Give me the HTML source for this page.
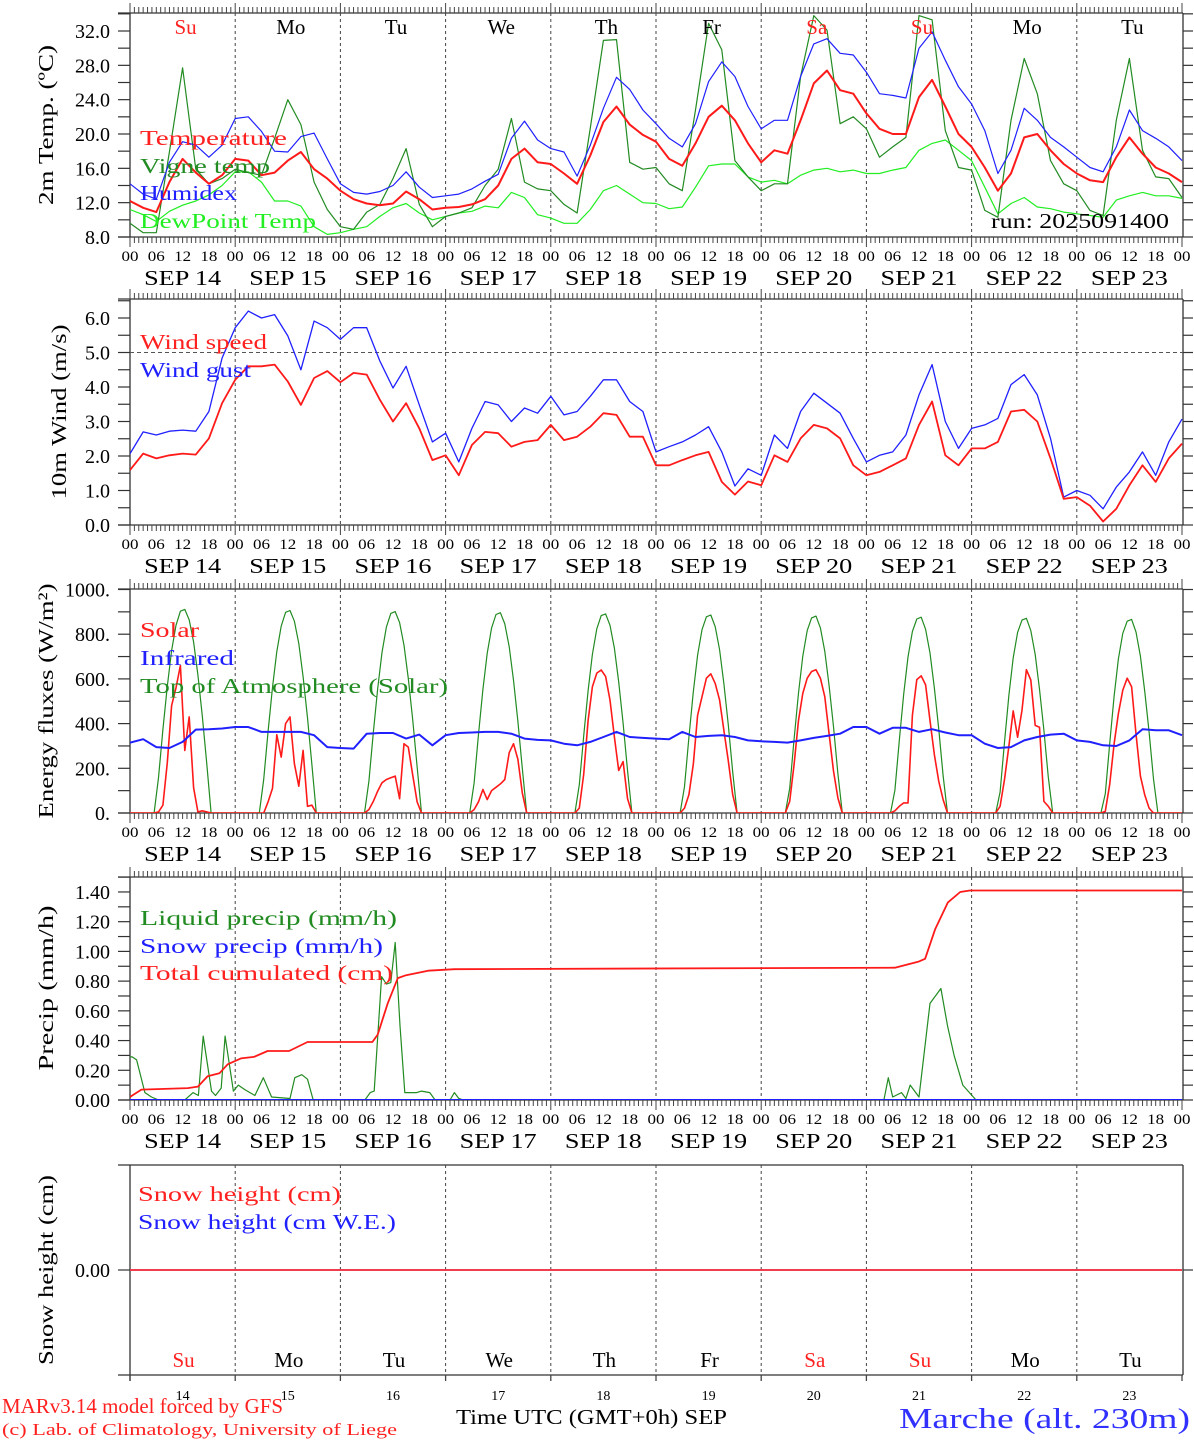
<!DOCTYPE html>
<html><head><meta charset="utf-8"><title>MAR forecast Marche</title>
<style>html,body{margin:0;padding:0;background:#fff;}svg{display:block;}text{font-family:"Liberation Serif","DejaVu Serif",serif;}</style>
</head><body>
<svg id="chart" xmlns="http://www.w3.org/2000/svg" width="1194" height="1440" viewBox="0 0 1194 1440"></svg>
<script>
// ---------- DATA ----------
// 3-hourly series (t = 0,3,...,240 hours from SEP 14 00 UTC)
const tempValues=[12.2,11.4,10.9,14.4,17.1,15.5,14.2,15.2,17.1,16.9,15.2,15.5,16.9,17.9,15.9,14.8,13.4,12.4,11.9,11.7,11.9,13.3,12.4,11.2,11.4,11.5,11.8,12.4,14.0,17.1,18.3,16.7,16.5,15.4,14.2,17.5,21.4,23.2,21.1,19.9,19.1,17.1,16.3,18.9,22.0,23.3,21.6,18.9,16.7,18.1,17.7,21.6,25.9,27.4,25.1,24.7,22.4,20.6,20.0,20.0,24.3,26.3,23.2,20.0,18.5,16.1,13.4,15.4,19.6,20.0,18.1,16.5,15.4,14.6,14.4,17.3,19.6,17.7,16.1,15.4,14.4];
const humidexValues=[14.2,13.0,12.4,16.7,19.1,18.7,17.3,18.7,21.8,22.0,20.3,18.0,17.9,19.7,20.1,17.1,14.2,13.2,13.0,13.3,14.0,15.6,13.8,12.6,12.8,13.0,13.6,14.5,15.3,19.5,21.5,19.3,18.3,17.9,15.1,18.7,23.0,26.6,25.2,22.8,21.2,19.5,18.5,21.2,26.1,28.4,26.7,23.2,20.6,21.6,21.6,26.7,30.5,31.1,29.4,29.2,27.2,24.7,24.5,24.2,30.0,31.9,28.6,25.5,23.5,20.4,15.4,18.1,23.0,21.6,19.6,18.5,17.3,16.1,15.6,18.5,22.8,20.4,19.5,18.5,16.9];
const vigneValues=[9.6,8.5,8.5,17.9,27.7,15.9,14.2,14.8,15.9,15.5,15.2,19.5,24.0,21.1,14.4,11.2,9.2,8.9,10.9,11.8,14.8,18.3,11.8,9.2,10.4,10.8,11.4,14.0,15.9,21.8,14.4,13.6,13.4,11.8,10.8,20.7,30.9,31.0,16.7,15.9,16.1,14.2,13.4,22.8,32.9,29.8,16.9,15.0,13.4,14.2,14.2,26.7,33.8,32.1,21.2,22.0,20.6,17.3,18.5,19.6,33.8,33.3,20.4,16.1,15.8,11.1,10.3,21.6,28.8,24.7,16.9,14.2,13.4,11.1,10.5,21.6,28.8,18.1,15.0,14.8,12.6];
const dewValues=[11.2,10.6,9.8,11.0,11.7,12.2,12.9,14.0,15.6,15.6,14.4,12.2,12.2,11.6,9.2,8.3,8.5,8.9,9.2,10.4,11.4,11.9,10.8,10.0,10.4,10.8,11.0,11.6,11.4,13.2,12.6,10.6,10.2,9.6,9.6,11.2,13.4,14.0,13.0,12.0,11.9,11.3,11.5,13.8,16.3,16.5,16.5,15.0,14.4,14.6,14.2,15.2,15.8,16.0,15.6,15.8,15.4,15.4,15.8,16.1,18.1,18.9,19.3,18.1,16.9,13.8,10.7,11.9,12.6,11.5,11.3,10.9,10.7,10.5,10.3,12.3,12.8,13.2,12.8,12.8,12.5];
const windValues=[1.59,2.07,1.93,2.02,2.07,2.04,2.51,3.53,4.21,4.6,4.6,4.65,4.16,3.48,4.26,4.46,4.14,4.41,4.36,3.63,3.0,3.53,2.80,1.88,2.02,1.44,2.32,2.70,2.66,2.27,2.41,2.46,2.90,2.46,2.56,2.85,3.24,3.19,2.56,2.56,1.73,1.73,1.88,2.02,2.12,1.25,0.88,1.26,1.15,2.02,1.83,2.51,2.90,2.80,2.51,1.73,1.44,1.54,1.73,1.93,2.90,3.58,2.02,1.73,2.22,2.22,2.41,3.29,3.34,3.0,1.93,0.76,0.81,0.56,0.1,0.47,1.15,1.73,1.25,1.93,2.36];
const gustValues=[2.07,2.70,2.61,2.72,2.75,2.72,3.29,4.84,5.72,6.2,6.0,6.1,5.48,4.50,5.91,5.72,5.38,5.72,5.72,4.75,3.97,4.6,3.48,2.41,2.66,1.83,2.80,3.58,3.48,3.0,3.39,3.24,3.73,3.19,3.29,3.73,4.21,4.21,3.58,3.29,2.12,2.27,2.41,2.61,2.85,2.12,1.13,1.63,1.44,2.61,2.22,3.29,3.82,3.53,3.24,2.51,1.83,2.02,2.12,2.61,3.77,4.65,3.0,2.22,2.80,2.90,3.09,4.07,4.36,3.77,2.51,0.81,1.0,0.86,0.47,1.10,1.54,2.12,1.44,2.41,3.07];
const infraredValues=[315,330,295,291,318,373,375,378,385,385,363,363,363,363,348,295,291,288,355,358,358,333,351,303,348,358,360,363,363,355,333,327,325,310,303,318,340,363,340,336,333,330,363,340,345,348,340,325,321,318,315,325,336,345,355,385,385,355,381,381,363,375,360,348,348,310,291,295,325,340,351,355,325,318,303,300,325,375,370,370,348];
// hourly energy, per day, hours 06..18 (hour-mean values)
const solarByDay=[
 [5,35,225,480,560,660,280,430,113,5,10,5,0],
 [0,50,110,350,250,400,430,220,120,280,30,35,0],
 [15,52,98,135,150,158,165,64,310,295,170,50,0],
 [15,50,105,60,100,115,130,150,270,310,240,90,0],
 [22,173,414,565,626,640,611,505,340,190,230,65,0],
 [22,82,218,437,520,603,623,580,505,369,233,82,0],
 [52,218,414,535,603,633,641,603,520,354,188,67,0],
 [10,30,45,45,437,597,614,573,414,263,143,60,0],
 [30,150,300,457,339,460,641,595,392,384,52,30,0],
 [7,128,309,445,550,603,565,354,165,82,22,0,0]];
const toaByDay=[
 [158,373,567,726,840,903,911,864,765,618,434,224,0],
 [150,366,562,722,836,898,906,858,758,610,426,216,0],
 [142,359,557,718,832,893,901,852,751,602,418,208,0],
 [134,352,552,714,828,888,896,846,744,594,410,200,0],
 [126,345,547,710,824,883,891,840,737,586,402,192,0],
 [118,338,542,706,820,878,886,834,730,578,394,184,0],
 [110,331,537,702,816,873,881,828,723,570,386,176,0],
 [102,324,532,698,812,868,876,822,716,562,378,168,0],
 [94,317,527,694,808,863,871,816,709,554,370,160,0],
 [86,310,522,690,804,858,866,810,702,546,362,152,0]];
// precipitation (hour, value)
const liquidHours=[0,0.5,1.5,3.4,4.9,6.5,12.5,14.4,15.6,16.7,18.6,19.5,20.8,21.7,23.6,24.7,26.2,28.5,30.4,32.3,36.5,37.6,39.2,40.5,41.8,53.6,54.8,55.7,57.4,58.5,59.5,60.5,61.6,62.7,65.4,66.5,68.4,69.6,73,74,75,76,172,173,174,176,177,178,180,182.5,185,186.5,188,190,193,240];
const liquidValues=[0.29,0.29,0.27,0.05,0.02,0,0,0.05,0.03,0.43,0.06,0.03,0.08,0.43,0.06,0.1,0.07,0.03,0.15,0.02,0.01,0.15,0.17,0.14,0,0,0.05,0.06,0.83,0.78,0.79,1.06,0.5,0.05,0.05,0.06,0.05,0,0,0.05,0.01,0,0,0.15,0.02,0.05,0.01,0.1,0.02,0.65,0.75,0.5,0.3,0.1,0,0];
const cumulHours=[0,0.5,2.6,13.2,15.5,17.7,20.4,22.3,25.3,28.3,31.4,36.3,40.5,55.3,56.5,58.8,61.1,63,68,74,174.5,179.8,181.4,183.7,186.6,189.4,191.6,240];
const cumulValues=[0.02,0.03,0.07,0.08,0.09,0.16,0.18,0.24,0.28,0.29,0.33,0.33,0.39,0.39,0.44,0.65,0.82,0.84,0.87,0.88,0.89,0.93,0.95,1.15,1.33,1.40,1.41,1.41];
const snowPrecipHours=[0,240];
const snowPrecipValues=[0,0];
const snowHeightHours=[0,240];
const snowHeightValues=[0,0];
const dayNames=['Su','Mo','Tu','We','Th','Fr','Sa','Su','Mo','Tu'];
const dayNums=['14','15','16','17','18','19','20','21','22','23'];
const hourLabels=['00','06','12','18'];
const tempTicks=['8.0','12.0','16.0','20.0','24.0','28.0','32.0'];
const windTicks=['0.0','1.0','2.0','3.0','4.0','5.0','6.0'];
const energyTicks=['0.','200.','400.','600.','800.','1000.'];
const precipTicks=['0.00','0.20','0.40','0.60','0.80','1.00','1.20','1.40'];

// ---------- HELPERS ----------
const NS='http://www.w3.org/2000/svg';
const svg=document.getElementById('chart');
function mk(tag,attrs,parent){const e=document.createElementNS(NS,tag);for(const k in attrs)e.setAttribute(k,attrs[k]);(parent||svg).appendChild(e);return e;}
function X(h){return 130+h*1052/240;}
const L=130,R=1183;
const P=[
 {top:13,bot:237,Y:v=>237-(v-8)*206/24},
 {top:299,bot:525,Y:v=>525-v*34.5},
 {top:589,bot:813,Y:v=>813-v*0.2235},
 {top:877,bot:1100,Y:v=>1100-v*148.6},
 {top:1165,bot:1375,Y:v=>1270-v*100}];
function txt(x,y,s,size,fill,anchor,len,parent){
  const a={x:x,y:y,'font-size':size,fill:fill||'#000','text-anchor':anchor||'start'};
  if(len){a.textLength=len;a.lengthAdjust='spacingAndGlyphs';}
  const t=mk('text',a,parent);t.textContent=s;return t;}
function pts(times,vals,Y){return times.map((t,i)=>X(t).toFixed(1)+','+Y(vals[i]).toFixed(1)).join(' ');}
const t3=tempValues.map((_,i)=>i*3);

// clip paths
const defs=mk('defs',{});
P.forEach((p,i)=>{const c=mk('clipPath',{id:'clip'+i},defs);mk('rect',{x:L,y:p.top,width:R-L,height:p.bot-p.top},c);});

// ---------- FRAMES & GRID ----------
P.forEach((p,pi)=>{
  const g=mk('g',{});
  
  
  mk('line',{x1:118,y1:p.top,x2:R,y2:p.top,stroke:'#333','stroke-width':1.3},g);
  mk('line',{x1:118,y1:p.bot,x2:R,y2:p.bot,stroke:'#333','stroke-width':1.3},g);
  mk('line',{x1:L,y1:p.top,x2:L,y2:p.bot+(pi==4?6:0),stroke:'#333','stroke-width':1.3},g);
  mk('line',{x1:R,y1:p.top,x2:R,y2:p.bot,stroke:'#333','stroke-width':1.3},g);
  for(let d=1;d<10;d++){
    const vl=mk('line',{x1:X(d*24),y1:p.top,x2:X(d*24),y2:p.bot,stroke:'#444','stroke-width':1,'stroke-dasharray':'3,3'},g);
    
    
  }
  if(pi<4){
    for(let h=0;h<=240;h++){
      const len=h%24==0?10:6;
      mk('line',{x1:X(h),y1:p.top,x2:X(h),y2:p.top-len,stroke:'#444','stroke-width':1},g);
      mk('line',{x1:X(h),y1:p.bot,x2:X(h),y2:p.bot+len,stroke:'#444','stroke-width':1},g);
    }
    const lg=mk('g',{});
    
    
    for(let d=0;d<10;d++){
      for(let k=0;k<4;k++){txt(X(d*24+k*6),p.bot+24,hourLabels[k],15,'#000','middle',17,lg);}
      txt(X(d*24+12),p.bot+48,'SEP  '+dayNums[d],21,'#000','middle',77,lg);
    }
    txt(X(240),p.bot+24,'00',15,'#000','middle',17,lg);
  } else {
    for(let d=0;d<=10;d++){mk('line',{x1:X(d*24),y1:p.bot,x2:X(d*24),y2:p.bot+6,stroke:'#444','stroke-width':1.3},g);}
  }
});
// y ticks
function yTicks(pi,step,from,to,labels,labelStep,name){
  const p=P[pi];const g=mk('g',{});
  
  
  for(let v=from;v<=to+1e-9;v+=step){const y=p.Y(v);
    mk('line',{x1:118,y1:y,x2:L,y2:y,stroke:'#333','stroke-width':1.2},g);
    mk('line',{x1:R,y1:y,x2:R+10,y2:y,stroke:'#333','stroke-width':1.2},g);}
  labels.forEach((s,i)=>{txt(110,p.Y(from+i*labelStep)+7,s,20,'#000','end',null,g);});
}
yTicks(0,2,8,34,tempTicks,4,'temp-y-axis');
yTicks(1,0.5,0,6.5,windTicks,1,'wind-y-axis');
yTicks(2,100,0,1000,energyTicks,200,'energy-y-axis');
yTicks(3,0.1,0,1.5,precipTicks,0.2,'precip-y-axis');
yTicks(4,1,0,0,['0.00'],1,'snow-y-axis');
// wind 5.0 dashed
const w5=mk('line',{x1:L,y1:P[1].Y(5),x2:R,y2:P[1].Y(5),stroke:'#555','stroke-width':1,'stroke-dasharray':'4,3'});



// y titles
function ytitle(s,cx,cy,len,name){const t=txt(0,0,s,21,'#000','middle',len);t.setAttribute('transform','translate('+cx+','+cy+') rotate(-90)');
  
  }
ytitle('2m Temp. (ºC)',53,125,160,'temp-y-axis-title');
ytitle('10m Wind (m/s)',66,412,175,'wind-y-axis-title');
ytitle('Energy fluxes (W/m²)',53,701,235,'energy-y-axis-title');
ytitle('Precip (mm/h)',53,988,165,'precip-y-axis-title');
ytitle('Snow height (cm)',53,1270,190,'snow-y-axis-title');

// ---------- SERIES ----------
function series(pi,times,vals,color,w,name){
  const pl=mk('polyline',{points:pts(times,vals,P[pi].Y),fill:'none',stroke:color,'stroke-width':w,'stroke-linejoin':'round','clip-path':'url(#clip'+pi+')'});
  
  
  return pl;}
series(0,t3,dewValues,'#22ee22',1.2,'dewpoint-line');
series(0,t3,vigneValues,'#228b22',1.2,'vigne-temp-line');
series(0,t3,humidexValues,'#2020ff',1.2,'humidex-line');
series(0,t3,tempValues,'#ff1a1a',2,'temperature-line');
series(1,t3,gustValues,'#2020ff',1.3,'wind-gust-line');
series(1,t3,windValues,'#ff1a1a',1.8,'wind-speed-line');
function hourly(byDay){const times=[0],vals=[0];
  for(let d=0;d<10;d++){for(let h=0;h<24;h++){const idx=h-6;
    times.push(d*24+h+0.5);vals.push(idx>=0&&idx<byDay[d].length?byDay[d][idx]:0);}}
  times.push(240);vals.push(0);return [times,vals];}
const toa=hourly(toaByDay),sol=hourly(solarByDay);
series(2,toa[0],toa[1],'#228b22',1.2,'toa-solar-line');
series(2,sol[0],sol[1],'#ff1a1a',1.6,'solar-line');
series(2,t3,infraredValues,'#2020ff',2,'infrared-line');
series(3,liquidHours,liquidValues,'#228b22',1.2,'liquid-precip-line');
series(3,snowPrecipHours,snowPrecipValues,'#2020ff',2,'snow-precip-line');
series(3,cumulHours,cumulValues,'#ff1a1a',1.8,'total-cumulated-line');
series(4,snowHeightHours,snowHeightValues,'#2020ff',1.5,'snow-height-we-line');
series(4,snowHeightHours,snowHeightValues,'#ff3333',1.8,'snow-height-line');

// ---------- LEGENDS ----------
function legend(x,y,s,color,len,name){const t=txt(x,y,s,21,color,'start',len);
  
  }
legend(140,145,'Temperature','#ff2020',147,'legend-temperature');
legend(140,173,'Vigne temp','#228b22',130,'legend-vigne-temp');
legend(140,200,'Humidex','#2020ff',97,'legend-humidex');
legend(140,228,'DewPoint Temp','#22ee22',176,'legend-dewpoint');
legend(991,228,'run: 2025091400','#000',178,'run-label');
legend(140,349,'Wind speed','#ff2020',127,'legend-wind-speed');
legend(140,377,'Wind gust','#2020ff',111,'legend-wind-gust');
legend(140,637,'Solar','#ff2020',59,'legend-solar');
legend(140,665,'Infrared','#2020ff',94,'legend-infrared');
legend(140,693,'Top of Atmosphere (Solar)','#228b22',308,'legend-toa');
legend(140,925,'Liquid precip (mm/h)','#228b22',257,'legend-liquid-precip');
legend(140,953,'Snow precip (mm/h)','#2020ff',243,'legend-snow-precip');
legend(140,980,'Total cumulated (cm)','#ff2020',253,'legend-total-cumulated');
legend(138,1201,'Snow height (cm)','#ff2020',203,'legend-snow-height');
legend(138,1229,'Snow height (cm W.E.)','#2020ff',258,'legend-snow-height-we');

// day names
for(let d=0;d<10;d++){
  const c=(dayNames[d]=='Su'||dayNames[d]=='Sa')?'#ff2020':'#000';
  const a=txt(X(d*24+12)+3,34,dayNames[d],21,c,'middle');
  
  
  const b=txt(X(d*24+12)+1,1367,dayNames[d],21,c,'middle');
  
  
  const n=txt(X(d*24+12),1400,dayNums[d],14,'#000','middle');
  
  
}
// footer
legend(2,1413,'MARv3.14 model forced by GFS','#ff2020',281,'model-credit');
const c2=txt(2,1435,'(c) Lab. of Climatology, University of Liege',17,'#ff2020','start',395);


const xt=txt(456,1424,'Time UTC (GMT+0h) SEP',21,'#000','start',271);


const st=txt(899,1428,'Marche (alt. 230m)',29,'#3030ff','start',291);


</script>
</body></html>
